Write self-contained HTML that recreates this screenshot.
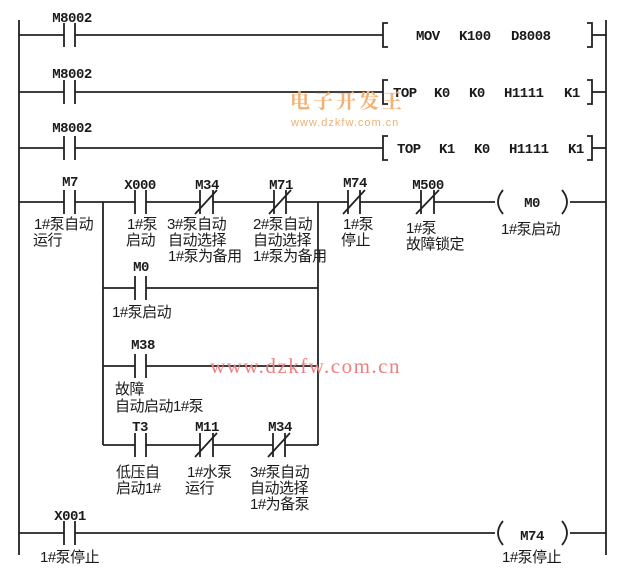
<!DOCTYPE html>
<html><head><meta charset="utf-8"><style>
html,body{margin:0;padding:0;background:#fff;}
svg{display:block;}
text{font-family:"Liberation Mono","Noto Sans CJK SC",monospace;font-size:14px;fill:#1a1a1a;font-weight:bold;letter-spacing:-0.5px;}
.c{font-family:"Liberation Sans","Noto Sans CJK SC",sans-serif;font-size:15px;fill:#1a1a1a;font-weight:normal;letter-spacing:-0.5px;}
</style></head><body>
<svg width="620" height="576" viewBox="0 0 620 576" xmlns="http://www.w3.org/2000/svg">
<g stroke="#222" stroke-width="1.8" fill="none">
<line x1="19" y1="20" x2="19" y2="555"/>
<line x1="606" y1="20" x2="606" y2="555"/>
<line x1="19" y1="35" x2="64" y2="35"/><line x1="64" y1="23" x2="64" y2="47"/><line x1="75" y1="23" x2="75" y2="47"/>
<line x1="75" y1="35" x2="383" y2="35"/>
<polyline points="388,23 383,23 383,47 388,47"/><polyline points="587,23 592,23 592,47 587,47"/><line x1="592" y1="35" x2="606" y2="35"/>
<line x1="19" y1="92" x2="64" y2="92"/><line x1="64" y1="80" x2="64" y2="104"/><line x1="75" y1="80" x2="75" y2="104"/>
<line x1="75" y1="92" x2="383" y2="92"/>
<polyline points="388,80 383,80 383,104 388,104"/><polyline points="587,80 592,80 592,104 587,104"/><line x1="592" y1="92" x2="606" y2="92"/>
<line x1="19" y1="148" x2="64" y2="148"/><line x1="64" y1="136" x2="64" y2="160"/><line x1="75" y1="136" x2="75" y2="160"/>
<line x1="75" y1="148" x2="383" y2="148"/>
<polyline points="388,136 383,136 383,160 388,160"/><polyline points="587,136 592,136 592,160 587,160"/><line x1="592" y1="148" x2="606" y2="148"/>
<line x1="19" y1="202" x2="64" y2="202"/><line x1="64" y1="190" x2="64" y2="214"/><line x1="75" y1="190" x2="75" y2="214"/>
<line x1="75" y1="202" x2="135" y2="202"/>
<line x1="135" y1="190" x2="135" y2="214"/><line x1="146" y1="190" x2="146" y2="214"/>
<line x1="146" y1="202" x2="200" y2="202"/>
<line x1="200" y1="190" x2="200" y2="214"/><line x1="213" y1="190" x2="213" y2="214"/><line x1="195" y1="214" x2="217" y2="190"/>
<line x1="213" y1="202" x2="274" y2="202"/>
<line x1="274" y1="190" x2="274" y2="214"/><line x1="286" y1="190" x2="286" y2="214"/><line x1="269" y1="214" x2="291" y2="190"/>
<line x1="286" y1="202" x2="348" y2="202"/>
<line x1="348" y1="190" x2="348" y2="214"/><line x1="360" y1="190" x2="360" y2="214"/><line x1="343" y1="214" x2="365" y2="190"/>
<line x1="360" y1="202" x2="421" y2="202"/>
<line x1="421" y1="190" x2="421" y2="214"/><line x1="434" y1="190" x2="434" y2="214"/><line x1="416" y1="214" x2="439" y2="190"/>
<line x1="434" y1="202" x2="495" y2="202"/>
<path d="M503,190 Q493,202 503,214"/><path d="M562,190 Q572,202 562,214"/>
<line x1="570" y1="202" x2="606" y2="202"/>
<line x1="103" y1="202" x2="103" y2="445"/><line x1="318" y1="202" x2="318" y2="445"/>
<line x1="103" y1="288" x2="135" y2="288"/><line x1="135" y1="276" x2="135" y2="300"/><line x1="146" y1="276" x2="146" y2="300"/><line x1="146" y1="288" x2="318" y2="288"/>
<line x1="103" y1="366" x2="135" y2="366"/><line x1="135" y1="354" x2="135" y2="378"/><line x1="146" y1="354" x2="146" y2="378"/><line x1="146" y1="366" x2="318" y2="366"/>
<line x1="103" y1="445" x2="135" y2="445"/><line x1="135" y1="433" x2="135" y2="457"/><line x1="146" y1="433" x2="146" y2="457"/>
<line x1="146" y1="445" x2="200" y2="445"/>
<line x1="200" y1="433" x2="200" y2="457"/><line x1="213" y1="433" x2="213" y2="457"/><line x1="195" y1="457" x2="217" y2="433"/>
<line x1="213" y1="445" x2="273" y2="445"/>
<line x1="273" y1="433" x2="273" y2="457"/><line x1="285" y1="433" x2="285" y2="457"/><line x1="268" y1="457" x2="290" y2="433"/>
<line x1="285" y1="445" x2="318" y2="445"/>
<line x1="19" y1="533" x2="64" y2="533"/><line x1="64" y1="521" x2="64" y2="545"/><line x1="75" y1="521" x2="75" y2="545"/>
<line x1="75" y1="533" x2="495" y2="533"/>
<path d="M503,521 Q493,533 503,545"/><path d="M562,521 Q572,533 562,545"/>
<line x1="570" y1="533" x2="606" y2="533"/>
</g>
<text x="416" y="40">MOV</text><text x="459" y="40">K100</text><text x="511" y="40">D8008</text>
<text x="393" y="97">TOP</text><text x="434" y="97">K0</text><text x="469" y="97">K0</text><text x="504" y="97">H1111</text><text x="564" y="97">K1</text>
<text x="397" y="153">TOP</text><text x="439" y="153">K1</text><text x="474" y="153">K0</text><text x="509" y="153">H1111</text><text x="568" y="153">K1</text>
<g text-anchor="middle">
<text x="72" y="22">M8002</text><text x="72" y="78">M8002</text><text x="72" y="132">M8002</text>
<text x="70" y="186">M7</text><text x="140" y="189">X000</text><text x="207" y="189">M34</text><text x="281" y="189">M71</text>
<text x="355" y="187">M74</text><text x="428" y="189">M500</text><text x="532" y="207">M0</text>
<text x="141" y="271">M0</text><text x="143" y="349">M38</text>
<text x="140" y="431">T3</text><text x="207" y="431">M11</text><text x="280" y="431">M34</text>
<text x="70" y="520">X001</text><text x="532" y="540">M74</text>
</g>
<text class="c" x="34" y="229">1#泵自动</text><text class="c" x="33" y="245">运行</text>
<text class="c" x="127" y="229">1#泵</text><text class="c" x="126" y="245">启动</text>
<text class="c" x="167" y="229">3#泵自动</text><text class="c" x="168" y="245">自动选择</text><text class="c" x="168" y="261">1#泵为备用</text>
<text class="c" x="253" y="229">2#泵自动</text><text class="c" x="253" y="245">自动选择</text><text class="c" x="253" y="261">1#泵为备用</text>
<text class="c" x="343" y="229">1#泵</text><text class="c" x="341" y="245">停止</text>
<text class="c" x="406" y="233">1#泵</text><text class="c" x="406" y="249">故障锁定</text>
<text class="c" x="501" y="234">1#泵启动</text>
<text class="c" x="112" y="317">1#泵启动</text>
<text class="c" x="115" y="394">故障</text><text class="c" x="115" y="411">自动启动1#泵</text>
<text class="c" x="116" y="477">低压自</text><text class="c" x="116" y="493">启动1#</text>
<text class="c" x="187" y="477">1#水泵</text><text class="c" x="185" y="493">运行</text>
<text class="c" x="250" y="477">3#泵自动</text><text class="c" x="250" y="493">自动选择</text><text class="c" x="250" y="509">1#为备泵</text>
<text class="c" x="40" y="562">1#泵停止</text><text class="c" x="502" y="562">1#泵停止</text>
<text x="290" y="108" style="font-family:'Noto Serif CJK SC',serif;font-size:20px;fill:#f3b070;font-weight:bold;letter-spacing:3px">电子开发王</text>
<text x="291" y="126" style="font-family:'Liberation Sans',sans-serif;font-size:11px;fill:#f0b070;font-weight:normal;letter-spacing:1px">www.dzkfw.com.cn</text>
<text x="210" y="373" style="font-family:'Liberation Serif',serif;font-size:21px;fill:#f08080;font-weight:normal;letter-spacing:1.5px">www.dzkfw.com.cn</text>
</svg>
</body></html>
